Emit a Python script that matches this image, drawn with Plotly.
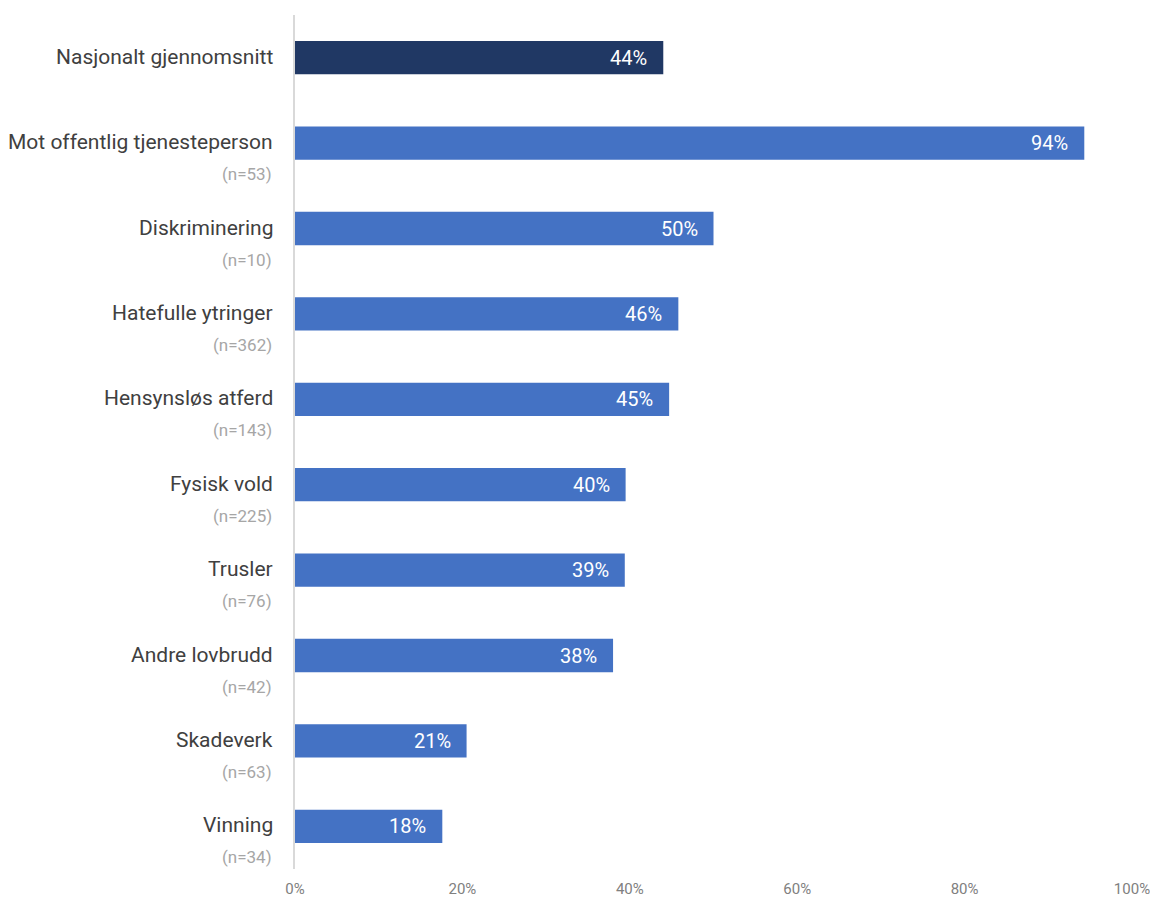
import plotly.graph_objects as go

# Data
categories = ["Nasjonalt gjennomsnitt", "Mot offentlig tjenesteperson", "Diskriminering",
              "Hatefulle ytringer", "Hensynsløs atferd", "Fysisk vold", "Trusler",
              "Andre lovbrudd", "Skadeverk", "Vinning"]
n_labels = ["", "(n=53)", "(n=10)", "(n=362)", "(n=143)", "(n=225)", "(n=76)",
            "(n=42)", "(n=63)", "(n=34)"]
shares = [0.44, 0.943, 0.50, 0.458, 0.447, 0.395, 0.394, 0.38, 0.205, 0.176]
shown = ["44%", "94%", "50%", "46%", "45%", "40%", "39%", "38%", "21%", "18%"]

FONT = "Roboto"
colors = ["#203864"] + ["#4472c4"] * (len(categories) - 1)

fig = go.Figure()
fig.add_trace(go.Bar(
    x=shares, y=categories, orientation="h",
    marker=dict(color=colors, line=dict(width=0)),
    width=0.39, hoverinfo="skip",
))

# value labels inside bar ends
for cat, val, txt in zip(categories, shares, shown):
    fig.add_annotation(x=val, y=cat, text=txt, showarrow=False, xanchor="right",
                       xshift=-14, font=dict(family=FONT, size=20, color="white"))

# category labels with (n=..) underneath
for cat, n in zip(categories, n_labels):
    fig.add_annotation(x=0, xref="paper", y=cat, text=cat, showarrow=False,
                       xanchor="right", xshift=-20, yshift=1,
                       font=dict(family=FONT, size=21, color="#404040"))
    if n:
        fig.add_annotation(x=0, xref="paper", y=cat, text=n, showarrow=False,
                           xanchor="right", xshift=-21, yshift=-31,
                           font=dict(family=FONT, size=17, color="#a6a6a6"))

fig.update_layout(
    width=1150, height=898,
    margin=dict(l=295, r=18, t=15, b=29),
    plot_bgcolor="white", paper_bgcolor="white",
    showlegend=False,
    xaxis=dict(range=[0, 1], tickvals=[0, 0.2, 0.4, 0.6, 0.8, 1.0],
               tickformat=".0%", showgrid=False, zeroline=False, automargin=False,
               ticks="outside", ticklen=6, tickcolor="white",
               ticklabeloverflow="allow",
               tickfont=dict(family=FONT, size=15, color="#808080")),
    yaxis=dict(range=[9.5, -0.5], showticklabels=False, showgrid=False, automargin=False,
               zeroline=False, showline=True, linecolor="#d9d9d9", linewidth=2),
)

# drop the default page margin so the figure fills the window exactly
fig.write_html("out.html", config={"displayModeBar": False},
               post_script="document.body.style.margin='0';document.body.style.overflow='hidden';")
